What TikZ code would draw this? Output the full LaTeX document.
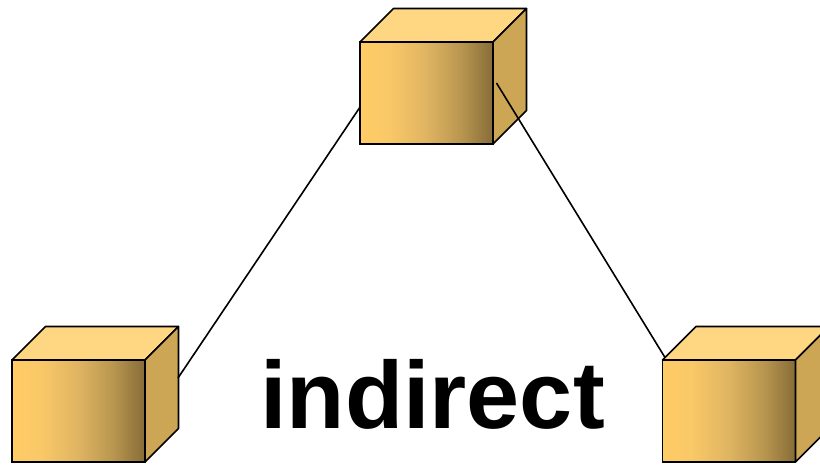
\documentclass[tikz,border=0pt]{standalone}
\usepackage{fontspec}
\setmainfont{Liberation Sans}
\usetikzlibrary{positioning}
\definecolor{cubeleft}{HTML}{FFCC66}
\definecolor{cubenear}{HTML}{F9C867}
\definecolor{cubemid}{HTML}{DFB462}
\definecolor{cubefar}{HTML}{B8964F}
\definecolor{cuberight}{HTML}{876C38}
\definecolor{cubetop}{HTML}{FFD681}
\definecolor{cubeside}{HTML}{CCA654}
\pgfdeclarehorizontalshading{cubefront}{100bp}{color(0bp)=(cubeleft); color(25bp)=(cubeleft); color(36bp)=(cubenear); color(50bp)=(cubemid); color(63bp)=(cubefar); color(75bp)=(cuberight); color(100bp)=(cuberight)}
\tikzset{>=latex}
% One cube: front face is the node, top and side hang off its corners
\newcommand{\cubenode}[3]{%
	\node[front style] at (#2, #3) (#1) {};
	\draw[face style, fill=cubetop] (#1.north west) -- ++(33.5, 33.5) -- ++(133, 0) -- (#1.north east) -- cycle;
	\draw[face style, fill=cubeside] (#1.north east) -- ++(33.5, 33.5) -- ++(0, -102) -- (#1.south east) -- cycle;
}
\begin{document}
\begin{tikzpicture}[x=1pt,y=1pt]

	% Setup the styles for the faces
	\tikzset{front style/.style={rectangle,
	                             minimum width=133pt,
	                             minimum height=102pt,
	                             inner sep=0pt,
	                             outer sep=0pt,
	                             line width=1.6pt,
	                             draw=black,
	                             shading=cubefront},
	         face style/.style={line width=1.6pt,
	                            line join=round,
	                            draw=black},
	         link style/.style={line width=1.6pt,
	                            draw=black}}

	\useasboundingbox (0, 0) rectangle (820, 464);

	% Draw the cubes
	\cubenode{boxtop}{426.5}{371}
	\cubenode{boxleft}{78.5}{53}
	\cubenode{boxright}{729}{53}

	% Connect the cubes
	\draw[link style] (boxtop.192.7) -- ([shift={(33, -18)}]boxleft.north east);
	\draw[link style] ([shift={(3.5, -41)}]boxtop.north east) -- ([shift={(2.5, 2.5)}]boxright.north west);

	% Caption
	\node[anchor=base, inner sep=0pt, font=\fontsize{95.4}{95.4}\selectfont\bfseries] at (432.5, 36) (caption) {indirect};

\end{tikzpicture}
\end{document}
